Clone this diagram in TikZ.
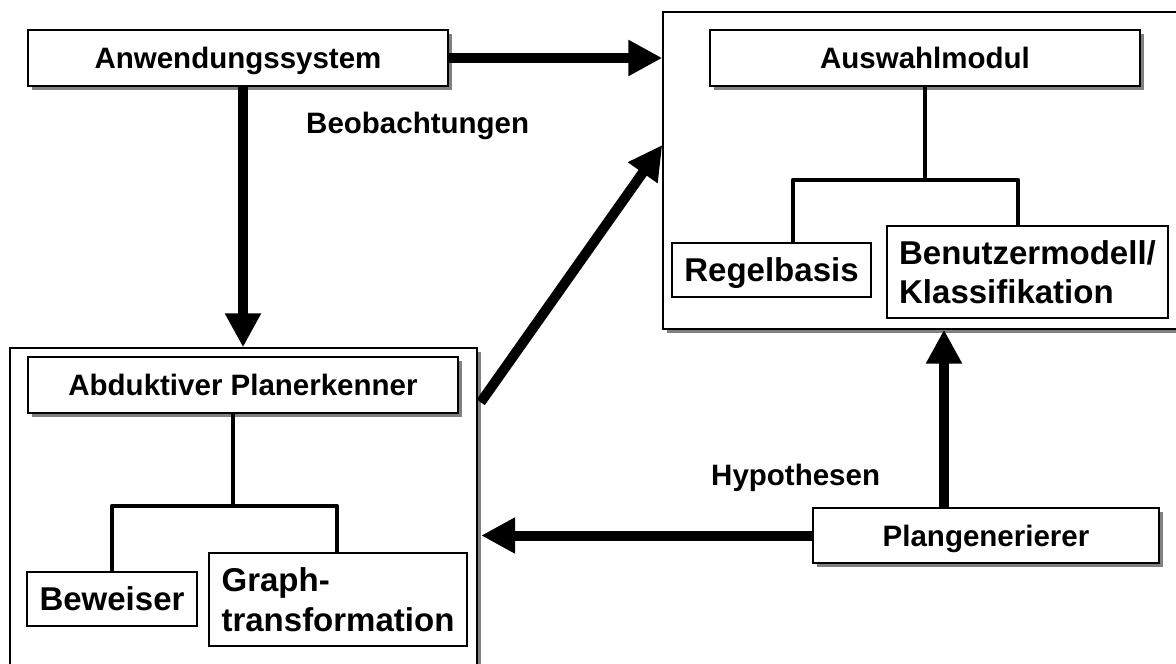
\documentclass[tikz,border=0pt]{standalone}
\usepackage{fontspec}
\setmainfont{Liberation Sans}
\usetikzlibrary{arrows.meta,shadows,calc}
\begin{document}
\begin{tikzpicture}[x=1pt,y=-1pt,
  box/.style={draw=black, line width=1.4pt, fill=white, inner sep=0pt},
  shbox/.style={box, drop shadow={shadow xshift=3.5pt, shadow yshift=-3.5pt, fill=black!50, opacity=1}},
  mainfont/.style={font=\bfseries\fontsize{29.5}{34}\selectfont},
  leaffont/.style={font=\bfseries\fontsize{33}{39.5}\selectfont},
  oneline/.style={text height=21pt, text depth=0pt},
  onelinebig/.style={text height=23.6pt, text depth=0pt},
  tree/.style={line width=4.6pt, line join=round, draw=black},
  bigarrow/.style={line width=10pt, draw=black, -{Triangle[length=34pt,width=34pt]}},
  lbl/.style={mainfont, inner sep=0pt}
]
\path[use as bounding box] (0,0) rectangle (1176,664);
\clip (0,0) rectangle (1176,664);

% containers
\node[shbox, minimum width=537pt, minimum height=317pt] (ausc) at (931.5,170.5) {};
\node[shbox, minimum width=467pt, minimum height=352pt] (abdc) at (243.5,524) {};

% boxes with shadow
\node[shbox, mainfont, oneline, minimum width=420pt, minimum height=56pt] (anw) at (238,58) {Anwendungssystem};
\node[shbox, mainfont, oneline, minimum width=430pt, minimum height=56pt] (aus) at (925,58) {Auswahlmodul};
\node[shbox, mainfont, oneline, minimum width=430pt, minimum height=56pt] (abd) at (243,385) {Abduktiver Planerkenner};
\node[shbox, mainfont, oneline, minimum width=346pt, minimum height=55pt] (plan) at (986,535.5) {Plangenerierer};

% leaf boxes
\node[box, leaffont, onelinebig, minimum width=199pt, minimum height=54pt] (regel) at (771.5,270) {Regelbasis};
\node[box, leaffont, align=left, minimum width=281pt, minimum height=92pt] (benu) at (1027.5,272) {Benutzermodell/\\Klassifikation};
\node[box, leaffont, onelinebig, minimum width=170pt, minimum height=54pt] (bew) at (112,599) {Beweiser};
\node[box, leaffont, align=left, minimum width=258pt, minimum height=93pt] (graph) at (338,599.5) {Graph-\\transformation};

% trees
\coordinate (tl) at (793,180);
\coordinate (tr) at (1018,180);
\draw[tree] (aus.south) -- (aus.south |- tl);
\draw[tree] (tl |- regel.north) -- (tl) -- (tr) -- (tr |- benu.north);

\coordinate (bl) at (112,506);
\coordinate (br) at (337,506);
\coordinate (bm) at (233,506);
\draw[tree] (abd.south -| bm) -- (bm);
\draw[tree] (bl |- bew.north) -- (bl) -- (br) -- (br |- graph.north);

% labels
\node[lbl, anchor=base west] (beob) at (306,133) {Beobachtungen};
\node[lbl, anchor=base west] (hyp) at (711,485) {Hypothesen};

% arrows
\coordinate (va) at ([xshift=5pt]anw.south);
\draw[bigarrow] (va) -- (va |- abdc.north);
\draw[bigarrow] (anw.east) -- (anw.east -| ausc.west);
\coordinate (d1) at ($(abdc.north east)+(3,55)$);
\coordinate (y145) at (0,145);
\draw[bigarrow] (d1) -- (ausc.west |- y145);
\coordinate (pl) at ([xshift=3.5pt]abdc.east);
\draw[bigarrow] (plan.west) -- (plan.west -| pl);
\coordinate (pu) at ([xshift=-42pt]plan.north);
\draw[bigarrow] (pu) -- (pu |- ausc.south);
\end{tikzpicture}
\end{document}
